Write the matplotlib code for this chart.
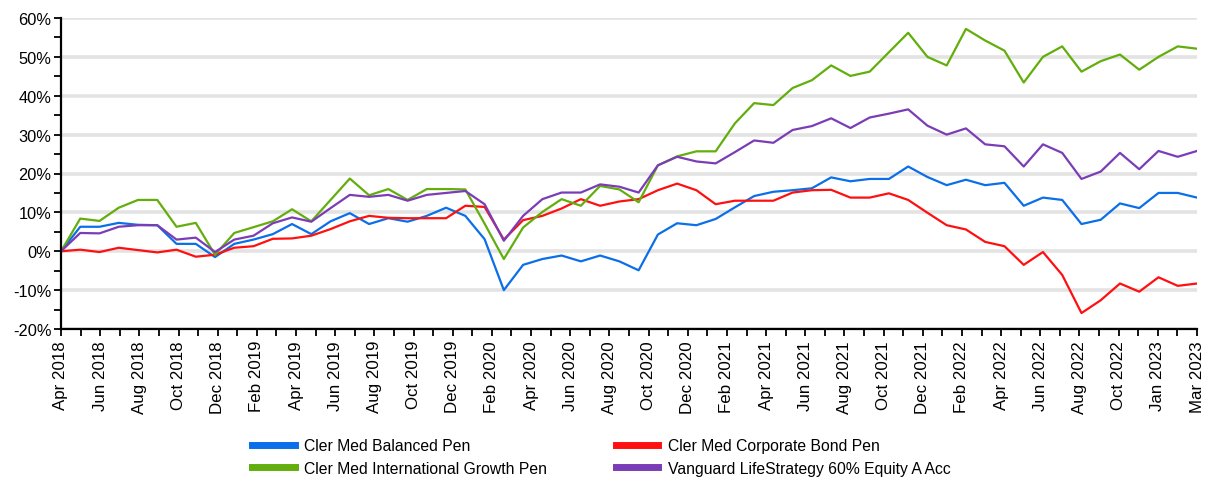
import matplotlib
matplotlib.use("Agg")
import matplotlib.pyplot as plt
import numpy as np

plt.rcParams['font.family'] = ['Liberation Sans', 'DejaVu Sans']

# monthly cumulative performance, %
balanced = [0, 6.3, 6.3, 7.3, 6.8, 6.7, 1.9, 1.9, -1.5, 1.9,
            3.0, 4.4, 7.0, 4.4, 7.7, 9.8, 7.0, 8.5, 7.6, 9.1,
            11.2, 9.1, 3.1, -10.0, -3.5, -2.0, -1.1, -2.6, -1.1, -2.6,
            -4.9, 4.3, 7.2, 6.7, 8.3, 11.3, 14.2, 15.3, 15.7, 16.2,
            19.0, 18.0, 18.6, 18.6, 21.8, 19.1, 17.0, 18.4, 17.0, 17.6,
            11.7, 13.8, 13.2, 7.0, 8.1, 12.3, 11.1, 15.0, 15.0, 13.8]
corp_bond = [0, 0.4, -0.2, 0.9, 0.3, -0.3, 0.4, -1.4, -0.9, 0.9,
             1.3, 3.2, 3.3, 4.0, 5.7, 7.7, 9.1, 8.6, 8.5, 8.5,
             8.5, 11.7, 11.4, 3.0, 8.0, 9.1, 11.0, 13.4, 11.7, 12.8,
             13.4, 15.7, 17.4, 15.7, 12.1, 13.0, 13.0, 13.0, 15.1, 15.7,
             15.8, 13.8, 13.8, 14.9, 13.2, 9.9, 6.7, 5.6, 2.4, 1.3,
             -3.5, -0.2, -6.1, -15.9, -12.6, -8.3, -10.4, -6.7, -8.9, -8.3]
intl_growth = [0, 8.4, 7.8, 11.2, 13.2, 13.2, 6.3, 7.3, -0.9, 4.7,
               6.2, 7.7, 10.8, 7.7, 13.2, 18.7, 14.4, 16.0, 13.2, 16.0,
               16.0, 15.9, 7.1, -2.0, 6.1, 10.1, 13.4, 11.7, 16.8, 15.9,
               12.6, 22.1, 24.4, 25.7, 25.7, 32.9, 38.1, 37.6, 42.0, 44.0,
               47.8, 45.1, 46.2, 51.2, 56.2, 50.0, 47.8, 57.2, 54.2, 51.6,
               43.4, 50.0, 52.7, 46.2, 48.9, 50.6, 46.7, 50.0, 52.7, 52.1]
vanguard = [0, 4.7, 4.6, 6.3, 6.7, 6.7, 3.0, 3.5, -0.2, 3.0,
            4.0, 7.2, 8.7, 7.6, 11.1, 14.5, 14.0, 14.5, 13.0, 14.5,
            15.0, 15.5, 12.1, 2.7, 9.1, 13.4, 15.1, 15.1, 17.2, 16.6,
            15.1, 22.1, 24.3, 23.1, 22.6, 25.5, 28.5, 27.9, 31.2, 32.2,
            34.2, 31.7, 34.4, 35.4, 36.5, 32.3, 30.0, 31.6, 27.5, 27.0,
            21.8, 27.5, 25.3, 18.6, 20.5, 25.3, 21.1, 25.8, 24.3, 25.8]

series_names = ["Cler Med Balanced Pen", "Cler Med Corporate Bond Pen",
                "Cler Med International Growth Pen",
                "Vanguard LifeStrategy 60% Equity A Acc"]
colors = ['#0A6FE8', '#FF1010', '#62AE0C', '#7B3DB6']

tick_labels = ["Apr 2018", "Jun 2018", "Aug 2018", "Oct 2018", "Dec 2018",
               "Feb 2019", "Apr 2019", "Jun 2019", "Aug 2019", "Oct 2019",
               "Dec 2019", "Feb 2020", "Apr 2020", "Jun 2020", "Aug 2020",
               "Oct 2020", "Dec 2020", "Feb 2021", "Apr 2021", "Jun 2021",
               "Aug 2021", "Oct 2021", "Dec 2021", "Feb 2022", "Apr 2022",
               "Jun 2022", "Aug 2022", "Oct 2022", "Jan 2023", "Mar 2023"]

fig = plt.figure(figsize=(12.08, 4.81), dpi=100)
ax = fig.add_axes([61 / 1208, 1 - 330 / 481, (1197 - 61) / 1208, (330 - 19) / 481])

x = np.arange(len(balanced))
lines = []
for vals, name, c in zip([balanced, corp_bond, intl_growth, vanguard], series_names, colors):
    ln, = ax.plot(x, vals, color=c, lw=1.6, label=name, zorder=3)
    lines.append(ln)

ax.set_xlim(0, len(balanced) - 1)
ax.set_ylim(-20, 60)

# 59 category ticks, every other one labelled
n_ticks = 2 * len(tick_labels) - 1
ticks = np.linspace(0, len(balanced) - 1, n_ticks)
labels = []
for k in range(n_ticks):
    labels.append(tick_labels[k // 2] if k % 2 == 0 else "")
ax.set_xticks(ticks)
ax.set_xticklabels(labels, rotation=90, fontsize=12.2)

yt = np.arange(-20, 61, 10)
ax.set_yticks(yt)
ax.set_yticklabels([f"{v}%" for v in yt], fontsize=11.8)
ax.set_yticks(np.arange(-15, 60, 10), minor=True)

ax.tick_params(axis='both', which='both', direction='out', length=5, width=1.3, color='black')
ax.tick_params(axis='x', pad=3)
ax.tick_params(axis='y', pad=2)

for s in ['top', 'right']:
    ax.spines[s].set_visible(False)
for s in ['left', 'bottom']:
    ax.spines[s].set_linewidth(1.6)
    ax.spines[s].set_zorder(4)

ax.yaxis.grid(True, color='#e3e3e3', lw=2.6, zorder=0)
ax.set_axisbelow(True)

# legend filled row by row: reorder for matplotlib's column-major fill
order = [0, 2, 1, 3]
leg = fig.legend([lines[i] for i in order], [series_names[i] for i in order],
                 ncol=2, loc='upper left', bbox_to_anchor=(238 / 1208, 1 - 425 / 481),
                 frameon=False, fontsize=11.3, handlelength=2.7, handletextpad=0.6,
                 columnspacing=4.4, labelspacing=0.5)
for line in leg.get_lines():
    line.set_linewidth(5)

fig.savefig("out.png", dpi=100)
